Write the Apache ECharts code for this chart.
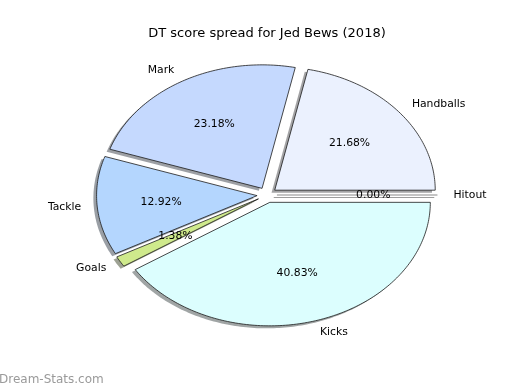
<!DOCTYPE html>
<html>
<head>
<meta charset="utf-8">
<script src="https://cdn.jsdelivr.net/npm/echarts@6/dist/echarts.min.js"></script>
<style>html,body{margin:0;padding:0;background:#fff;}#c{width:520px;height:390px;}</style>
</head>
<body>
<div id="c"></div>
<script>
const titleText = 'DT score spread for Jed Bews (2018)';
const categories = ['Handballs', 'Mark', 'Tackle', 'Goals', 'Kicks', 'Hitout'];
const shares = [21.68, 23.18, 12.92, 1.38, 40.83, 0.00];
const sliceColors = ['#ebf1fe', '#c5d9fe', '#b4d6fe', '#cfea8c', '#dcfefe', '#e0e0e0'];
const watermark = 'Dream-Stats.com';

// layout (pixels)
const CX = 267, CY = 195, RX = 160.5, RY = 123.5;
const EXPLODE = 0.062, LABEL_DIST = 1.1, PCT_DIST = 0.6;
const SH_DX = -3.2, SH_DY = 2.5;
const FONT = '"DejaVu Sans", sans-serif';
const LABEL_FONT = '10.8px ' + FONT;

const total = shares.reduce((a, b) => a + b, 0);

function hexToRgb(h) {
  const n = parseInt(h.slice(1), 16);
  return [(n >> 16) & 255, (n >> 8) & 255, n & 255];
}

function renderItem(params, api) {
  const i = params.dataIndex;
  const v = api.value(0);
  let before = 0;
  for (let k = 0; k < i; k++) before += shares[k];
  const a0 = before / total * 360;
  const a1 = (before + v) / total * 360;
  const mid = (a0 + a1) / 2 * Math.PI / 180;
  const ox = CX + EXPLODE * RX * Math.cos(mid);
  const oy = CY - EXPLODE * RY * Math.sin(mid);
  const pts = [[ox, oy]];
  const steps = Math.max(1, Math.ceil(a1 - a0));
  for (let s = 0; s <= steps; s++) {
    const a = (a0 + (a1 - a0) * s / steps) * Math.PI / 180;
    pts.push([ox + RX * Math.cos(a), oy - RY * Math.sin(a)]);
  }
  const shPts = pts.map(p => [p[0] + SH_DX, p[1] + SH_DY]);
  const rgb = hexToRgb(sliceColors[i]);
  const shColor = 'rgba(' + Math.round(rgb[0] * 0.3) + ',' + Math.round(rgb[1] * 0.3) + ',' + Math.round(rgb[2] * 0.3) + ',0.5)';
  const children = [];
  if (v > 0) {
    children.push({ type: 'polygon', z2: 1, shape: { points: shPts }, style: { fill: shColor, stroke: null } });
    children.push({ type: 'polygon', z2: 10, shape: { points: pts }, style: { fill: sliceColors[i], stroke: '#1a1a1a', lineWidth: 0.8, lineJoin: 'miter' } });
  } else {
    children.push({ type: 'polyline', z2: 1, shape: { points: shPts.slice(0, 2) }, style: { stroke: 'rgba(60,60,60,0.5)', lineWidth: 1 } });
    children.push({ type: 'polyline', z2: 10, shape: { points: pts.slice(0, 2) }, style: { stroke: 'rgba(40,40,40,0.55)', lineWidth: 1 } });
  }
  const c = Math.cos(mid), sn = Math.sin(mid);
  const lx = ox + LABEL_DIST * RX * c, ly = oy - LABEL_DIST * RY * sn;
  children.push({ type: 'text', z2: 20, style: { text: categories[i], x: lx, y: ly, fill: '#000', font: LABEL_FONT, align: c >= 0 ? 'left' : 'right', verticalAlign: 'middle' } });
  const px = ox + PCT_DIST * RX * c, py = oy - PCT_DIST * RY * sn;
  children.push({ type: 'text', z2: 20, style: { text: (v / total * 100).toFixed(2) + '%', x: px, y: py, fill: '#000', font: LABEL_FONT, align: 'center', verticalAlign: 'middle' } });
  return { type: 'group', children: children };
}

const chart = echarts.init(document.getElementById('c'), null, { renderer: 'canvas' });
chart.setOption({
  animation: false,
  backgroundColor: '#fff',
  title: {
    text: titleText, left: 262, top: 22, textAlign: 'center',
    textStyle: { fontFamily: FONT, fontSize: 13, fontWeight: 'normal', color: '#000' }
  },
  graphic: [{
    type: 'text', left: -1, top: 374,
    style: { text: watermark, fill: '#9a9a9a', font: '12px ' + FONT }
  }],
  series: [{
    type: 'custom',
    coordinateSystem: 'none',
    silent: true,
    renderItem: renderItem,
    data: shares.map((v, i) => [v, i])
  }]
});
</script>
</body>
</html>
